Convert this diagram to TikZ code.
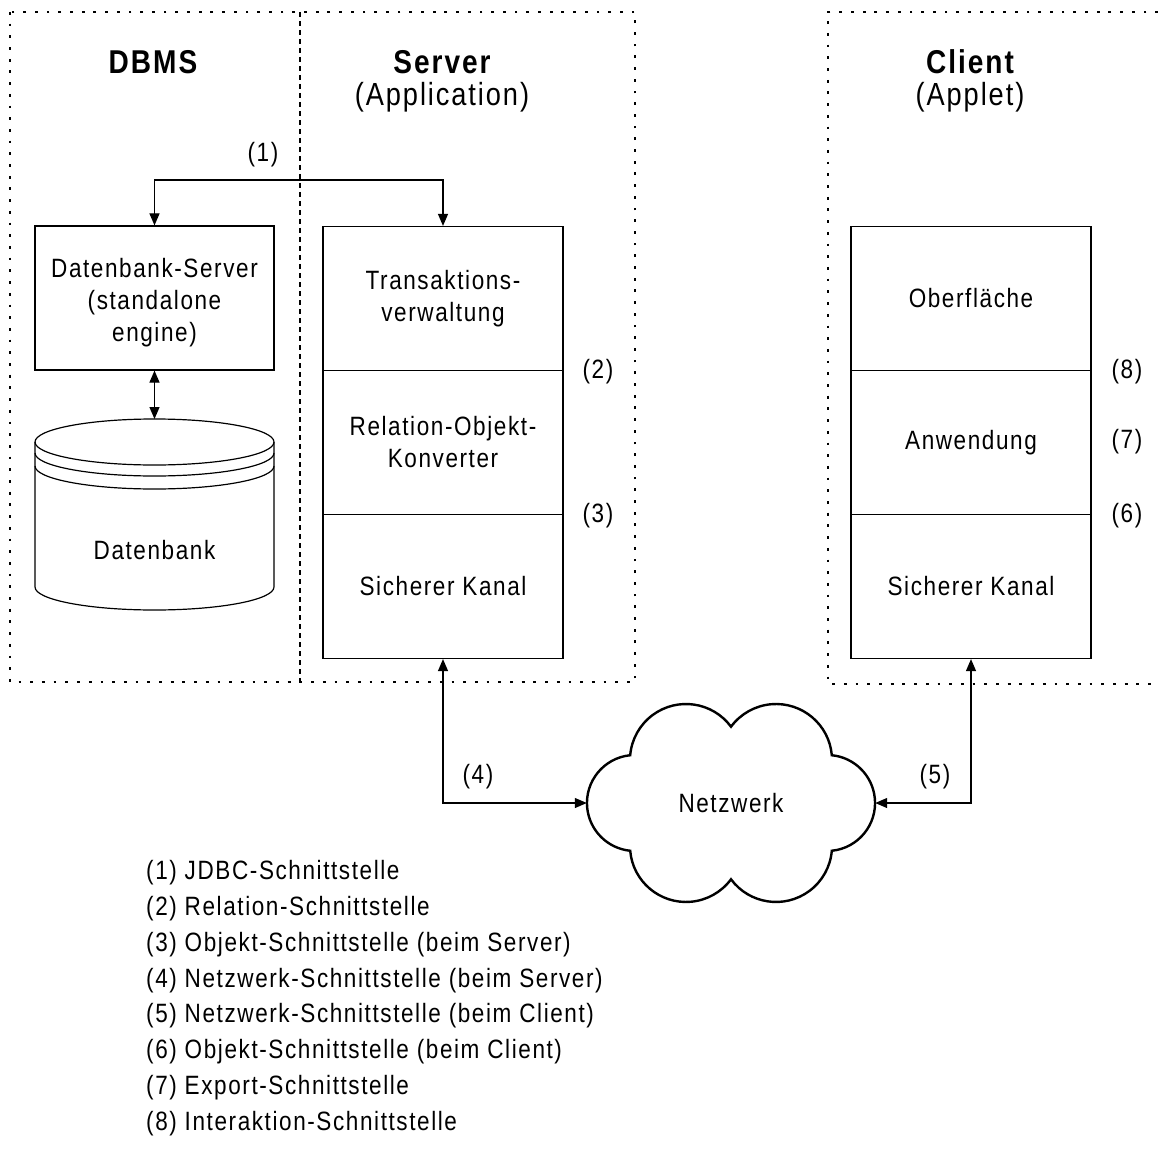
\documentclass[tikz,border=0pt]{standalone}
\usepackage{fontspec}
\setmainfont[FakeStretch=0.85,LetterSpace=6]{Liberation Sans}
\usetikzlibrary{arrows.meta}

\begin{document}
\begin{tikzpicture}[x=1pt,y=-1pt,
  every node/.style={inner sep=0pt, font=\fontsize{26.5}{32}\selectfont, align=center},
  boxpart/.style={draw, line width=1.2pt, minimum width=240pt, minimum height=144pt},
  dotline/.style={line width=2.8pt, dash pattern=on 2.8pt off 8.9pt},
  divline/.style={line width=1.8pt, dash pattern=on 5pt off 4pt},
  conn/.style={line width=1.2pt, {Triangle[length=12pt,width=10pt]}-{Triangle[length=12pt,width=10pt]}},
  title/.style={font=\fontsize{33}{38}\selectfont\bfseries},
  subtitle/.style={font=\fontsize{32}{38}\selectfont},
  legend/.style={anchor=west, font=\fontsize{26.5}{30}\selectfont}
]
\useasboundingbox (0,0) rectangle (1158,1158);

% dotted frames for DBMS + server and for the client
\draw[dotline] (10,12) rectangle (635,682);
\draw[divline] (300,12) -- (300,682);
\draw[dotline] (1158,12) -- (828,12) -- (828,684) -- (1158,684);

% titles
\node[title] (tdbms) at (153,62) {DBMS};
\node[title] (tsrv) at (442,62) {Server};
\node[subtitle] (tsrvsub) at (442,97) {(Application)};
\node[title] (tcli) at (970,62) {Client};
\node[subtitle] (tclisub) at (970,97) {(Applet)};

% database server box
\node[draw, line width=1.2pt, minimum width=239pt, minimum height=144pt] (dbsrv) at (154.5,298) {};
\node (dbsrvtxt) at (154.5,303) {Datenbank-Server\\(standalone\\engine)};

% database cylinder
\begin{scope}[line width=1.2pt]
  \draw (154.5,442) ellipse [x radius=119.5, y radius=23];
  \draw (35,453) arc[start angle=180, end angle=0, x radius=119.5, y radius=23];
  \draw (35,466) arc[start angle=180, end angle=0, x radius=119.5, y radius=23];
  \draw (35,442) -- (35,587) arc[start angle=180, end angle=0, x radius=119.5, y radius=23] -- (274,442);
\end{scope}
\coordinate (dbtop) at (154.5,419);
\node (db) at (154.5,550) {Datenbank};

% server stack
\node[boxpart] (srvA) at (443,298.5) {Transaktions-\\verwaltung};
\node[boxpart] (srvB) at (443,442.5) {Relation-Objekt-\\Konverter};
\node[boxpart] (srvC) at (443,586.5) {Sicherer Kanal};

% client stack
\node[boxpart] (cliA) at (971,298.5) {Oberfläche};
\node[boxpart] (cliB) at (971,442.5) {Anwendung};
\node[boxpart] (cliC) at (971,586.5) {Sicherer Kanal};

% interface numbers beside the stacks
\node (n2) at (598,372) {(2)};
\node (n3) at (598,516) {(3)};
\node (n8) at (1127,372) {(8)};
\node (n7) at (1127,442) {(7)};
\node (n6) at (1127,516) {(6)};

% network cloud
\node[minimum width=288pt, minimum height=193pt] (cloud) at (731,803) {Netzwerk};
\draw[line width=2.4pt] (731,726.7)
  arc[start angle=-36.5, end angle=-175.1, radius=56]
  arc[start angle=-95.7, end angle=-264.3, radius=48]
  arc[start angle=175.1, end angle=36.5, radius=56]
  arc[start angle=143.5, end angle=4.9, radius=56]
  arc[start angle=84.3, end angle=-84.3, radius=48]
  arc[start angle=-4.9, end angle=-143.5, radius=56] -- cycle;

% connectors
\coordinate (j1) at (300,180);
\draw[conn] (dbsrv.north) |- (j1) -| (srvA.north);
\node (n1) at (263,155) {(1)};
\draw[conn] (dbsrv.south) -- (dbtop);
\draw[conn] (srvC.south) |- (cloud.west);
\node (n4) at (478,777) {(4)};
\draw[conn] (cliC.south) |- (cloud.east);
\node (n5) at (935,777) {(5)};

% legend
\node[legend] (l1) at (146,873) {(1) JDBC-Schnittstelle};
\node[legend] (l2) at (146,909) {(2) Relation-Schnittstelle};
\node[legend] (l3) at (146,945) {(3) Objekt-Schnittstelle (beim Server)};
\node[legend] (l4) at (146,981) {(4) Netzwerk-Schnittstelle (beim Server)};
\node[legend] (l5) at (146,1016) {(5) Netzwerk-Schnittstelle (beim Client)};
\node[legend] (l6) at (146,1052) {(6) Objekt-Schnittstelle (beim Client)};
\node[legend] (l7) at (146,1088) {(7) Export-Schnittstelle};
\node[legend] (l8) at (146,1124) {(8) Interaktion-Schnittstelle};
\end{tikzpicture}
\end{document}
